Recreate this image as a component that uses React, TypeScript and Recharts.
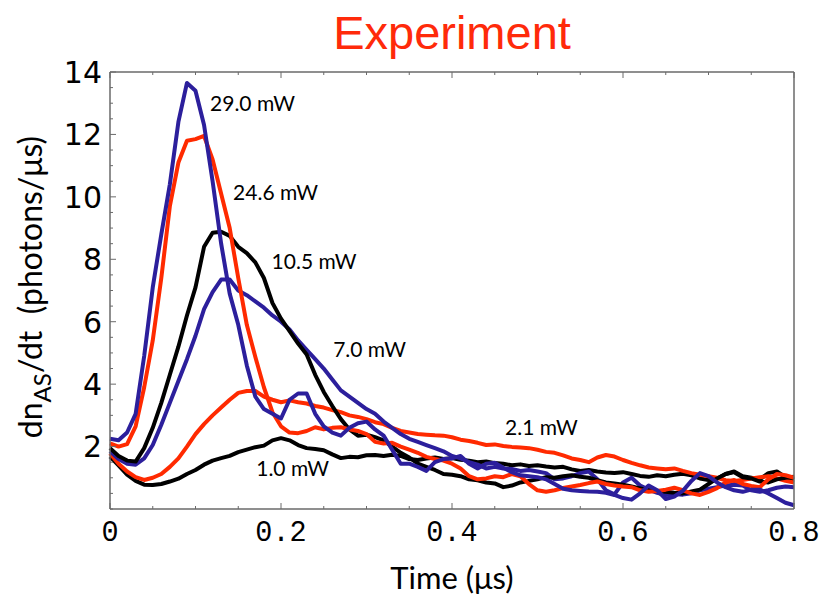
import { LineChart, Line, XAxis, YAxis, ReferenceDot, Label } from 'recharts'

// time grid (μs)
const TIME = [
  0, 0.01, 0.02, 0.03, 0.04, 0.05, 0.06, 0.07, 0.08, 0.09,
  0.1, 0.11, 0.12, 0.13, 0.14, 0.15, 0.16, 0.17, 0.18, 0.19,
  0.2, 0.21, 0.22, 0.23, 0.24, 0.25, 0.26, 0.27, 0.28, 0.29,
  0.3, 0.31, 0.32, 0.33, 0.34, 0.35, 0.36, 0.37, 0.38, 0.39,
  0.4, 0.41, 0.42, 0.43, 0.44, 0.45, 0.46, 0.47, 0.48, 0.49,
  0.5, 0.51, 0.52, 0.53, 0.54, 0.55, 0.56, 0.57, 0.58, 0.59,
  0.6, 0.61, 0.62, 0.63, 0.64, 0.65, 0.66, 0.67, 0.68, 0.69,
  0.7, 0.71, 0.72, 0.73, 0.74, 0.75, 0.76, 0.77, 0.78, 0.79,
  0.8,
]

// anti-Stokes photon rate per pump power (photons/μs)
const P29_0 = [
  2.25, 2.2, 2.45, 3.05, 4.9, 7.1, 8.8, 10.4, 12.4, 13.65,
  13.4, 12.3, 10.5, 8.5, 6.9, 5.9, 4.6, 3.6, 3.2, 3.05,
  2.9, 3.5, 3.7, 3.7, 3.05, 2.65, 2.45, 2.35, 2.6, 2.75,
  2.8, 2.55, 2.35, 1.9, 1.45, 1.45, 1.35, 1.22, 1.5, 1.6,
  1.62, 1.7, 1.45, 1.3, 1.45, 1.48, 1.32, 1.18, 1.08, 1.05,
  1.02, 0.95, 0.8, 0.65, 0.6, 0.58, 0.56, 0.55, 0.52, 0.45,
  0.35, 0.3, 0.5, 0.75, 0.6, 0.32, 0.4, 0.58, 0.9, 1.15,
  1.05, 0.85, 0.7, 0.6, 0.55, 0.62, 0.62, 0.5, 0.35, 0.2,
  0.12,
]
const P24_6 = [
  2.1, 2.0, 2.08, 2.65, 3.9, 5.4, 7.4, 9.7, 11.1, 11.8,
  11.85, 11.95, 11.2, 10.1, 9.0, 7.4, 5.9, 4.87, 3.9, 3.1,
  2.65, 2.45, 2.43, 2.5, 2.62, 2.55, 2.6, 2.62, 2.55, 2.5,
  2.4, 2.15, 2.1, 2.12, 2.0, 1.9, 1.8, 1.67, 1.6, 1.55,
  1.45, 1.3, 1.05, 0.95, 0.98, 1.05, 1.02, 1.12, 1.05, 0.8,
  0.6, 0.55, 0.6, 0.67, 0.72, 0.77, 0.83, 0.88, 0.8, 0.75,
  0.72, 0.7, 0.6, 0.55, 0.58, 0.62, 0.68, 0.6, 0.5, 0.45,
  0.55, 0.67, 0.85, 0.93, 0.8, 0.74, 0.7, 0.95, 1.12, 1.08,
  1.0,
]
const P10_5 = [
  1.95, 1.7, 1.55, 1.52, 1.95, 2.6, 3.4, 4.3, 5.2, 6.2,
  7.1, 8.4, 8.85, 8.88, 8.75, 8.4, 8.2, 7.9, 7.4, 6.6,
  6.1, 5.7, 5.3, 4.95, 4.3, 3.75, 3.3, 2.88, 2.55, 2.35,
  2.38, 2.3, 2.2, 2.0, 1.8, 1.65, 1.45, 1.35, 1.25, 1.12,
  1.1, 1.05, 0.95, 0.92, 0.85, 0.82, 0.7, 0.75, 0.85, 0.9,
  0.95, 1.02, 1.0, 1.05, 1.08, 1.03, 1.0, 0.92, 0.85, 0.82,
  0.78, 0.72, 0.66, 0.6, 0.58, 0.55, 0.52, 0.5, 0.56, 0.62,
  0.8, 0.98, 1.12, 1.18, 1.02, 0.98, 0.88, 0.85, 0.95, 1.0,
  1.03,
]
const P7_0 = [
  1.85, 1.6, 1.45, 1.42, 1.62, 2.05, 2.7, 3.4, 4.1, 4.8,
  5.55, 6.4, 6.95, 7.35, 7.35, 7.0, 6.85, 6.65, 6.45, 6.2,
  6.0, 5.75, 5.4, 5.1, 4.8, 4.5, 4.15, 3.8, 3.6, 3.4,
  3.2, 3.05, 2.8, 2.6, 2.4, 2.25, 2.15, 2.05, 1.95, 1.85,
  1.7, 1.62, 1.5, 1.42, 1.3, 1.35, 1.3, 1.28, 1.22, 1.25,
  1.2, 1.15, 0.95, 0.98, 1.05, 1.15, 1.2, 0.95, 0.6, 0.47,
  0.85, 1.0, 0.75, 0.62, 0.52, 0.45, 0.48, 0.46, 0.5, 0.6,
  0.65, 0.7, 0.75, 0.78, 0.75, 0.6, 0.55, 0.6, 0.68, 0.72,
  0.7,
]
const P2_1 = [
  1.78, 1.45, 1.2, 1.02, 0.93, 1.0, 1.12, 1.35, 1.62, 2.0,
  2.4, 2.72, 3.0, 3.25, 3.5, 3.72, 3.78, 3.78, 3.6, 3.5,
  3.42, 3.48, 3.42, 3.38, 3.3, 3.25, 3.17, 3.1, 3.0, 2.95,
  2.88, 2.78, 2.72, 2.6, 2.5, 2.45, 2.4, 2.38, 2.36, 2.35,
  2.3, 2.22, 2.18, 2.12, 2.05, 2.07, 2.02, 1.99, 1.97, 1.95,
  1.9, 1.83, 1.8, 1.72, 1.62, 1.57, 1.5, 1.65, 1.73, 1.68,
  1.57, 1.48, 1.4, 1.33, 1.3, 1.27, 1.3, 1.22, 1.15, 1.1,
  1.05, 1.0, 0.92, 0.9, 0.93, 0.98, 1.02, 1.05, 0.98, 0.9,
  0.85,
]
const P1_0 = [
  1.68, 1.4, 1.1, 0.9, 0.78, 0.77, 0.8, 0.88, 0.97, 1.12,
  1.25, 1.42, 1.55, 1.63, 1.7, 1.82, 1.9, 1.98, 2.03, 2.2,
  2.27, 2.2, 2.05, 1.95, 1.92, 1.88, 1.75, 1.63, 1.67, 1.66,
  1.72, 1.73, 1.7, 1.74, 1.7, 1.6, 1.57, 1.62, 1.65, 1.6,
  1.63, 1.58, 1.55, 1.5, 1.52, 1.47, 1.45, 1.4, 1.43, 1.38,
  1.4, 1.36, 1.33, 1.35, 1.27, 1.22, 1.25, 1.2, 1.17, 1.15,
  1.18, 1.12, 1.06, 1.03, 1.08, 1.05, 1.1, 1.13, 1.08, 0.98,
  0.93, 0.97, 1.12, 1.2, 1.05, 1.0, 0.95, 1.15, 1.2, 1.02,
  0.95,
]

const X_TICKS = [0, 0.05, 0.1, 0.15, 0.2, 0.25, 0.3, 0.35, 0.4, 0.45, 0.5, 0.55, 0.6, 0.65, 0.7, 0.75, 0.8]
const X_LABELS: Record<string, string> = { '0': '0', '0.2': '0.2', '0.4': '0.4', '0.6': '0.6', '0.8': '0.8' }
const Y_TICKS = [
  0, 0.5, 1, 1.5, 2, 2.5, 3, 3.5, 4, 4.5, 5, 5.5, 6, 6.5, 7,
  7.5, 8, 8.5, 9, 9.5, 10, 10.5, 11, 11.5, 12, 12.5, 13, 13.5, 14,
]
const Y_LABELS: Record<string, string> = { '2': '2', '4': '4', '6': '6', '8': '8', '10': '10', '12': '12', '14': '14' }

// power labels next to each trace
const NOTE_TEXT = ['29.0 mW', '24.6 mW', '10.5 mW', '7.0 mW', '2.1 mW', '1.0 mW']
const NOTE_T = [0.117, 0.144, 0.189, 0.261, 0.462, 0.171]
const NOTE_V = [13.0, 10.13, 7.92, 5.1, 2.6, 1.31]

const BLUE = '#2c1f9c'
const RED = '#ff2a00'
const BLACK = '#000000'
const FRAME = '#6a6a6a'

const data = TIME.map((t, i) => ({
  t,
  p29: P29_0[i],
  p24: P24_6[i],
  p10: P10_5[i],
  p7: P7_0[i],
  p2: P2_1[i],
  p1: P1_0[i],
}))

const SANS = 'Lato, "DejaVu Sans", sans-serif'

function BottomTick({ x, y, payload }: any) {
  const label = X_LABELS[String(payload.value)]
  const len = label ? 6 : 3
  return (
    <g>
      <line x1={x} x2={x} y1={y} y2={y - len} stroke={FRAME} strokeWidth={1} />
      {label && (
        <g transform={`translate(${x},${y + 32}) scale(0.95,1)`}>
          <text textAnchor="middle" fontFamily='"Liberation Mono", monospace' fontSize={30} fill="#000">
            {label}
          </text>
        </g>
      )}
    </g>
  )
}

function TopTick({ x, y, payload }: any) {
  const len = X_LABELS[String(payload.value)] ? 6 : 3
  return <line x1={x} x2={x} y1={y} y2={y + len} stroke={FRAME} strokeWidth={1} />
}

function LeftTick({ x, y, payload }: any) {
  const label = Y_LABELS[String(payload.value)]
  const len = label ? 6 : 3
  return (
    <g>
      <line x1={x} x2={x + len} y1={y} y2={y} stroke={FRAME} strokeWidth={1} />
      {label && (
        <text x={x - 8} y={y} dy="0.36em" textAnchor="end" fontFamily='"DejaVu Sans", sans-serif' fontSize={30} fill="#000">
          {label}
        </text>
      )}
    </g>
  )
}

function RightTick({ x, y, payload }: any) {
  const len = Y_LABELS[String(payload.value)] ? 6 : 3
  return <line x1={x} x2={x - len} y1={y} y2={y} stroke={FRAME} strokeWidth={1} />
}

function YTitle() {
  return (
    <text transform="translate(42,287) rotate(-90)" textAnchor="middle" fontFamily={SANS} fontSize={32} fill="#000">
      <tspan>dn</tspan>
      <tspan dy={9} fontSize={24}>AS</tspan>
      <tspan dy={-9}>/dt{'\u00a0 '}(photons/μs)</tspan>
    </text>
  )
}

function XTitle({ viewBox }: any) {
  const cx = viewBox.x + viewBox.width / 2
  return (
    <text x={cx} y={589} textAnchor="middle" fontFamily={SANS} fontSize={31} fill="#000">
      Time (μs)
    </text>
  )
}

const SERIES = [
  { key: 'p1', color: BLACK },
  { key: 'p2', color: RED },
  { key: 'p7', color: BLUE },
  { key: 'p10', color: BLACK },
  { key: 'p24', color: RED },
  { key: 'p29', color: BLUE },
]

export default function App() {
  return (
    <div style={{ position: 'absolute', left: 0, top: 0, width: 824, height: 597, background: '#fff' }}>
      <div
        style={{
          position: 'absolute',
          left: 110,
          width: 684,
          top: 9,
          textAlign: 'center',
          fontFamily: '"Liberation Sans", Arial, sans-serif',
          fontSize: 47,
          lineHeight: '47px',
          color: '#ff2a0a',
        }}
      >
        Experiment
      </div>
      <LineChart width={824} height={597} data={data} margin={{ top: 71, right: 29, left: 0, bottom: 0 }}>
        <XAxis
          dataKey="t"
          type="number"
          domain={[0, 0.8]}
          ticks={X_TICKS}
          interval={0}
          height={88}
          tickSize={0}
          tickMargin={0}
          tickLine={false}
          axisLine={{ stroke: FRAME, strokeWidth: 1.5 }}
          tick={<BottomTick />}
        >
          <Label content={<XTitle />} />
        </XAxis>
        <XAxis
          xAxisId="top"
          orientation="top"
          dataKey="t"
          type="number"
          domain={[0, 0.8]}
          ticks={X_TICKS}
          interval={0}
          height={1}
          tickSize={0}
          tickMargin={0}
          tickLine={false}
          axisLine={{ stroke: FRAME, strokeWidth: 1.5 }}
          tick={<TopTick />}
        />
        <YAxis
          type="number"
          domain={[0, 14]}
          ticks={Y_TICKS}
          interval={0}
          width={110}
          tickSize={0}
          tickMargin={0}
          tickLine={false}
          axisLine={{ stroke: FRAME, strokeWidth: 1.5 }}
          tick={<LeftTick />}
        >
          <Label content={<YTitle />} />
        </YAxis>
        <YAxis
          yAxisId="right"
          orientation="right"
          type="number"
          domain={[0, 14]}
          ticks={Y_TICKS}
          interval={0}
          width={1}
          tickSize={0}
          tickMargin={0}
          tickLine={false}
          axisLine={{ stroke: FRAME, strokeWidth: 1.5 }}
          tick={<RightTick />}
        />
        {SERIES.map((s) => (
          <Line
            key={s.key}
            dataKey={s.key}
            stroke={s.color}
            strokeWidth={4}
            strokeLinejoin="round"
            dot={false}
            isAnimationActive={false}
          />
        ))}
        {NOTE_TEXT.map((txt, i) => (
          <ReferenceDot
            key={txt}
            x={NOTE_T[i]}
            y={NOTE_V[i]}
            r={0}
            ifOverflow="visible"
            shape={(p: any) => (
              <text x={p.cx} y={p.cy} dy="0.36em" fontFamily={SANS} fontSize={21} fill="#000">
                {txt}
              </text>
            )}
          />
        ))}
      </LineChart>
    </div>
  )
}
